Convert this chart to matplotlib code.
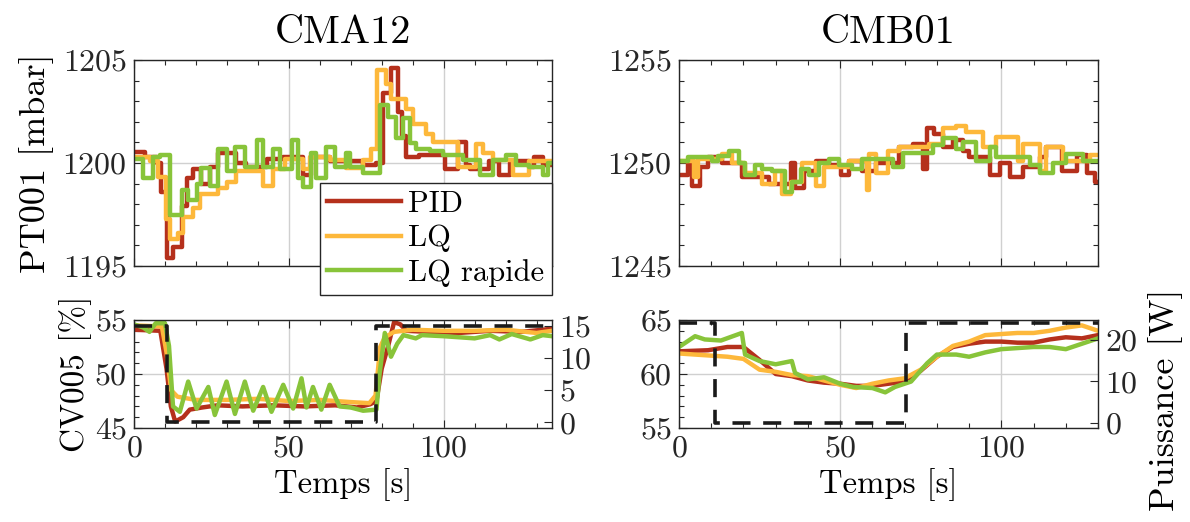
import matplotlib
matplotlib.use('Agg')
import matplotlib.pyplot as plt
from matplotlib.ticker import MultipleLocator

plt.rcParams['font.family'] = ['cmr10', 'DejaVu Serif']
plt.rcParams['mathtext.fontset'] = 'cm'
plt.rcParams['axes.formatter.use_mathtext'] = True
plt.rcParams['font.size'] = 23

RED = '#b5301c'
ORANGE = '#fdb83b'
GREEN = '#88c43a'
names = ['PID', 'LQ', 'LQ rapide']

# ---- CMA12 PT001 (step data) ----
a_pid_t = [0, 3.5, 7.3, 8.6, 10.5, 12.7, 15.4, 17, 19.1, 21.8, 24.5, 27.2, 33.1, 36.3, 42.8, 48.2,
           54.6, 57.3, 63.2, 74, 78.3, 80.4, 83.1, 85.3, 86.7, 88, 92.2, 100.3, 104.6, 107.3,
           108.4, 114.8, 118, 121.3, 127.7, 129.3, 132, 135]
a_pid_v = [1200.55, 1200.3, 1200.0, 1198.6, 1195.4, 1195.9, 1197.9, 1199.25, 1199.7, 1199.0, 1199.8,
           1200.5, 1200.0, 1199.8, 1200.2, 1200.3, 1199.4, 1200.3, 1200.1, 1199.9, 1200.0, 1203.4,
           1204.6, 1202.5, 1201.3, 1200.3, 1200.4, 1199.7, 1201.0, 1199.9, 1199.7, 1200.1, 1199.4,
           1200.1, 1199.8, 1200.3, 1199.9, 1199.9]
a_lq_t = [0, 5.2, 7.8, 10.3, 11.6, 14.3, 15.9, 19.1, 21.3, 27.2, 29.9, 33.1, 41.7, 45, 48.7, 54.6,
          56.8, 63.2, 68.6, 74, 76.7, 78.5, 81.5, 83.1, 88, 90.1, 94.4, 96.5, 104.6, 110.5, 112.7,
          115.9, 122.4, 127.7, 135]
a_lq_v = [1200.3, 1200.1, 1199.3, 1197.3, 1196.3, 1196.6, 1197.4, 1197.8, 1198.5, 1198.8, 1199.1,
          1199.6, 1198.9, 1199.7, 1200.2, 1199.7, 1200.3, 1200.15, 1199.75, 1200.15, 1200.7, 1204.5,
          1203.85, 1203.1, 1202.6, 1201.9, 1201.4, 1201.0, 1199.8, 1200.9, 1200.5, 1200.15, 1199.4,
          1200.1, 1200.1]
a_lqr_t = [0, 3, 6.2, 8.4, 11.6, 15.4, 17.5, 20.2, 21.8, 24.5, 27.2, 29.9, 32.6, 35.8, 39.6, 41.7,
           45, 47.1, 50.9, 53, 54.6, 57.3, 58.9, 62.1, 64.8, 68.6, 69.6, 74, 79.3, 82, 84.7, 86.9,
           89, 91.2, 95.5, 99.8, 106.2, 111.6, 115.9, 120.2, 123.4, 127.7, 132, 133.6, 135]
a_lqr_v = [1200.2, 1199.25, 1200.3, 1200.4, 1197.5, 1198.7, 1198.2, 1199.0, 1199.75, 1198.9, 1200.7,
           1199.6, 1200.8, 1199.8, 1201.1, 1199.8, 1200.7, 1199.7, 1201.1, 1199.25, 1198.85, 1200.5,
           1199.25, 1200.8, 1199.8, 1200.5, 1199.8, 1199.5, 1202.8, 1202.25, 1201.2, 1202.2, 1200.95,
           1200.7, 1200.6, 1200.4, 1200.15, 1199.4, 1200.15, 1200.4, 1199.9, 1199.8, 1199.4, 1200.0,
           1200.0]

# ---- CMB01 PT001 (step data) ----
b_pid_t = [0, 2.9, 3.9, 6.5, 9.1, 13.3, 19.5, 27.8, 34.6, 36.1, 38.7, 42.4, 46.5, 50.2, 52.8, 56.9,
           61.1, 68.3, 72.5, 75.6, 76.8, 79.2, 81.8, 84.9, 88.1, 90.1, 96.4, 99.5, 102.6, 106.8,
           111.9, 114, 118.7, 123.4, 126.5, 129, 130]
b_pid_v = [1249.4, 1250.1, 1248.9, 1249.8, 1250.3, 1250.0, 1249.3, 1249.0, 1250.0, 1248.8, 1249.6,
           1250.1, 1249.9, 1249.4, 1250.1, 1249.6, 1250.0, 1250.8, 1250.9, 1249.7, 1251.7, 1251.4,
           1250.8, 1251.1, 1250.6, 1250.3, 1249.4, 1250.0, 1249.3, 1249.8, 1250.3, 1250.8, 1249.6,
           1250.4, 1249.5, 1249.1, 1249.1]
b_lq_t = [0, 4.5, 6, 13.3, 16.4, 20.6, 25.7, 29.9, 32, 34.6, 38.2, 42.4, 45, 52.8, 58.3, 59, 61.1,
          64.7, 68.3, 77.7, 81.8, 86, 89.1, 94.3, 98.4, 105.2, 106.8, 111.9, 114, 119.2, 127.5, 130]
b_lq_v = [1250.1, 1249.3, 1250.2, 1250.45, 1250.0, 1249.5, 1249.0, 1249.6, 1248.5, 1249.1, 1250.0,
          1248.9, 1249.8, 1250.1, 1248.7, 1250.45, 1249.5, 1250.6, 1250.8, 1250.9, 1251.7, 1251.8,
          1251.5, 1250.8, 1251.25, 1250.1, 1250.9, 1249.6, 1250.8, 1250.1, 1250.4, 1250.4]
b_lqr_t = [0, 2.9, 10.2, 12.2, 15.4, 18.5, 20.6, 23.7, 25.7, 28.9, 33, 35.1, 37.7, 40.3, 43.4, 46.5,
           49.6, 53.8, 56.9, 66.3, 69.4, 78.7, 81.8, 86, 88.1, 92.2, 96.4, 98.4, 108.8, 111.9, 116.1,
           120.2, 125.4, 130]
b_lqr_v = [1250.1, 1250.3, 1250.1, 1250.35, 1250.6, 1250.0, 1249.4, 1249.9, 1249.7, 1249.6, 1248.6,
           1249.1, 1249.7, 1249.4, 1250.0, 1250.2, 1249.9, 1249.7, 1250.2, 1249.8, 1250.5, 1250.85,
           1251.2, 1250.7, 1251.0, 1250.1, 1250.8, 1250.3, 1249.9, 1249.5, 1250.0, 1250.45, 1250.1,
           1250.1]

# ---- CMA12 CV005 ----
c_pid_t = [0, 8.5, 10.5, 11.9, 13.3, 15.9, 18, 22, 27, 35, 45, 55, 65, 72, 76.3, 78.3, 80, 82, 84,
           86, 88, 95, 105, 115, 125, 132, 135]
c_pid_v = [54.1, 54.0, 50.5, 47.0, 45.6, 46.0, 46.7, 46.9, 47.1, 47.0, 47.1, 47.0, 47.1, 46.9, 47.2,
           47.5, 50.5, 52.5, 54.8, 54.6, 54.0, 53.9, 53.8, 54.0, 53.9, 54.1, 54.2]
c_lq_t = [0, 9, 10.5, 12, 14, 20, 30, 40, 50, 60, 70, 76, 78, 79.5, 81, 84, 90, 100, 110, 120, 130, 135]
c_lq_v = [54.5, 54.4, 52.0, 48.5, 47.9, 47.6, 47.6, 47.7, 47.5, 47.6, 47.4, 47.3, 48.0, 52.5, 53.4,
          53.9, 54.1, 54.0, 54.0, 54.1, 53.8, 54.0]
c_lqr_t = [0, 3, 5, 7, 10, 11.3, 12.6, 14.8, 17.5, 20.2, 24, 26.1, 29.9, 32.6, 35.8, 38.5, 41.7, 44.4,
           48.2, 51.4, 54.1, 55.7, 57.8, 60.5, 63.2, 66.4, 70, 74, 78.3, 79.3, 81, 83, 85, 87, 91,
           93, 100, 105, 110, 115, 118, 122, 128, 132, 135]
c_lqr_v = [54.6, 54.3, 53.9, 54.7, 54.7, 52.6, 47.0, 46.5, 49.3, 46.8, 48.8, 46.2, 49.3, 46.3, 49.3,
           46.6, 48.8, 46.5, 49.0, 46.8, 49.6, 46.9, 48.8, 46.7, 49.0, 47.0, 46.9, 46.6, 46.7, 50.0,
           53.8, 51.6, 52.8, 53.6, 53.3, 53.6, 53.5, 53.4, 53.3, 53.6, 53.2, 53.7, 53.2, 53.6, 53.5]
c_pow_t = [0, 10.5, 10.5, 78, 78, 135]
c_pow_v = [15, 15, 0, 0, 15, 15]

# ---- CMB01 CV005 ----
d_pid_t = [0, 9, 15, 20, 25, 30, 35, 40, 45, 50, 55, 60, 65, 70, 75, 80, 85, 90, 95, 100, 105, 110,
           115, 120, 125, 130]
d_pid_v = [62.1, 62.2, 62.5, 62.5, 61.3, 60.0, 59.8, 59.4, 59.2, 59.1, 58.9, 58.9, 59.1, 59.3, 60.3,
           61.6, 62.5, 62.8, 63.0, 63.0, 62.9, 62.9, 63.2, 63.4, 63.3, 63.6]
d_lq_t = [0, 5, 10, 15, 20, 25, 30, 35, 40, 45, 50, 55, 60, 65, 70, 75, 80, 85, 90, 95, 100, 105,
          110, 115, 120, 125, 130]
d_lq_v = [61.9, 61.8, 61.7, 61.6, 61.4, 60.4, 60.2, 59.9, 59.8, 59.4, 59.0, 58.7, 59.1, 59.4, 59.6,
          60.4, 61.6, 62.6, 63.0, 63.6, 63.7, 63.8, 63.8, 64.0, 64.3, 64.5, 64.0]
d_lqr_t = [0, 5, 8, 13, 19.5, 20.5, 25, 30, 35, 36, 40, 45, 50, 54, 60, 64, 67, 72, 77, 80, 86, 90,
           95, 100, 105, 110, 115, 120, 125, 130]
d_lqr_v = [62.5, 63.5, 63.2, 63.1, 63.8, 61.8, 61.2, 60.9, 61.2, 60.1, 59.5, 59.7, 59.1, 58.8, 58.7,
           58.3, 58.8, 59.3, 61.0, 61.8, 61.8, 61.6, 62.0, 62.3, 62.4, 62.5, 62.5, 62.3, 62.8, 63.3]
d_pow_t = [0, 11.2, 11.2, 70.4, 70.4, 130]
d_pow_v = [24, 24, 0, 0, 24, 24]

W, H = 1190, 522
fig = plt.figure(figsize=(W / 100, H / 100), dpi=100)

def box(l, t, r, b):
    return [l / W, 1 - b / H, (r - l) / W, (b - t) / H]

ax1 = fig.add_axes(box(134, 60, 552, 266))
ax2 = fig.add_axes(box(679, 60, 1098, 266))
ax3 = fig.add_axes(box(134, 320, 552, 428))
ax4 = fig.add_axes(box(679, 320, 1098, 428))

def style(ax, xmax, ymin, ymax, ymajor, labels_x):
    ax.set_xlim(0, xmax)
    ax.set_ylim(ymin, ymax)
    ax.xaxis.set_major_locator(MultipleLocator(50))
    ax.xaxis.set_minor_locator(MultipleLocator(10))
    ax.yaxis.set_major_locator(MultipleLocator(ymajor))
    ax.yaxis.set_minor_locator(MultipleLocator(1))
    ax.tick_params(which='both', direction='in', top=True, right=True, colors='#262626', pad=5)
    ax.tick_params(which='major', length=6, width=0.8)
    ax.tick_params(which='minor', length=3.5, width=0.8)
    ax.grid(True, which='major', color='#d0d0d0', linewidth=1)
    ax.set_axisbelow(True)
    for s in ax.spines.values():
        s.set_color('#262626')
        s.set_linewidth(1)
    if not labels_x:
        ax.set_xticklabels([])

lw = 3.2
for ax, data in [(ax1, [(a_pid_t, a_pid_v), (a_lq_t, a_lq_v), (a_lqr_t, a_lqr_v)]),
                 (ax2, [(b_pid_t, b_pid_v), (b_lq_t, b_lq_v), (b_lqr_t, b_lqr_v)])]:
    for (t, v), c, n in zip(data, [RED, ORANGE, GREEN], names):
        ax.step(t, v, where='post', color=c, lw=lw, label=n)

for ax, data in [(ax3, [(c_pid_t, c_pid_v), (c_lq_t, c_lq_v), (c_lqr_t, c_lqr_v)]),
                 (ax4, [(d_pid_t, d_pid_v), (d_lq_t, d_lq_v), (d_lqr_t, d_lqr_v)])]:
    for (t, v), c in zip(data, [RED, ORANGE, GREEN]):
        ax.plot(t, v, color=c, lw=lw)

style(ax1, 135, 1195, 1205, 5, False)
style(ax2, 130, 1245, 1255, 5, False)
style(ax3, 135, 45, 55, 5, True)
style(ax4, 130, 55, 65, 5, True)

tw3 = ax3.twinx()
tw3.plot(c_pow_t, c_pow_v, color='#1a1a1a', lw=2.6, ls=(0, (5, 3.5)))
tw3.set_ylim(-0.88, 15.88)
tw3.set_yticks([0, 5, 10, 15])
tw4 = ax4.twinx()
tw4.plot(d_pow_t, d_pow_v, color='#1a1a1a', lw=2.6, ls=(0, (5, 3.5)))
tw4.set_ylim(-1.2, 24.7)
tw4.set_yticks([0, 10, 20])
tw4.set_ylabel('Puissance [W]', fontsize=26)
tw4.yaxis.set_label_coords(1.12, 0.26)
for tw in (tw3, tw4):
    tw.tick_params(direction='in', length=6, width=0.8, colors='#262626', pad=5)
    for s in tw.spines.values():
        s.set_visible(False)

ax1.set_title('CMA12', fontsize=29, pad=12)
ax2.set_title('CMB01', fontsize=29, pad=12)
ax1.set_ylabel('PT001 [mbar]', fontsize=26, labelpad=6)
ax3.set_ylabel('CV005 [%]', fontsize=24, labelpad=2)
ax3.set_xlabel('Temps [s]', fontsize=23.5, labelpad=4)
ax4.set_xlabel('Temps [s]', fontsize=23.5, labelpad=4)

leg = ax1.legend(loc='upper right', bbox_to_anchor=(1.0, 0.403), fancybox=False, framealpha=1,
                 edgecolor='#262626', fontsize=22, handlelength=2.4, handletextpad=0.25,
                 borderpad=0.25, labelspacing=0.22, borderaxespad=0)
leg.get_frame().set_linewidth(1)
leg.set_zorder(10)

fig.savefig('out.png', dpi=100)
